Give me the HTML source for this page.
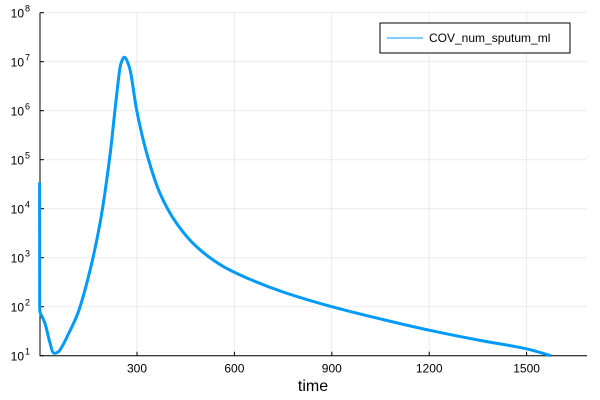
<!DOCTYPE html>
<html><head><meta charset="utf-8"><style>
body{margin:0;background:#fff}
svg{display:block;font-family:"Liberation Sans","DejaVu Sans",sans-serif}
</style></head><body>
<svg id="chart" width="600" height="400">
<rect width="600" height="400" fill="#fff"/>
<g id="grid"></g>
<g id="axes"></g>
<path id="line" fill="none" stroke="#009af9" stroke-width="3" stroke-linejoin="round"/>
<text x="313" y="391" font-size="16" text-anchor="middle" fill="#000">time</text>
<g>
<rect x="380" y="23" width="190" height="30" fill="#fff" stroke="#000" stroke-width="1"/>
<line x1="387" y1="38" x2="423" y2="38" stroke="#009af9" stroke-width="1"/>
<text x="429" y="42" font-size="12">COV_num_sputum_ml</text>
</g>
</svg>
<script>
const times=[0,0.3,1,6,16,32,42,48,58,72,87,118,150,186,217,237,250,261,276,299,330,371,422,484,566,648,750,900,1050,1200,1350,1500,1575];
const logValues=[4.54,2.0,1.9,1.82,1.67,1.26,1.06,1.05,1.08,1.22,1.42,1.87,2.6,3.7,5.1,6.3,6.95,7.09,6.9,6.01,5.13,4.31,3.70,3.22,2.82,2.56,2.3,2.0,1.75,1.52,1.32,1.14,1.0];
const xTicks=[300,600,900,1200,1500];
const yTicks=[1,2,3,4,5,6,7,8];
const x0=39.6,xs=97.4/300,yBase=355.7,dec=49;
const X=t=>x0+t*xs, Y=l=>yBase-(l-1)*dec;
const ns="http://www.w3.org/2000/svg";
const grid=document.getElementById('grid'),axes=document.getElementById('axes');
function mk(tag,attrs,parent){const e=document.createElementNS(ns,tag);for(const k in attrs)e.setAttribute(k,attrs[k]);parent.appendChild(e);return e;}
xTicks.forEach(v=>{
 const g=mk('line',{x1:X(v),x2:X(v),y1:Y(8),y2:Y(1),stroke:'#000','stroke-opacity':0.08},grid);
 
 
 const t=mk('line',{x1:X(v),x2:X(v),y1:Y(1),y2:Y(1)-4,stroke:'#000'},axes);
 
 
 const l=mk('text',{x:X(v),y:Y(1)+17,'font-size':12,'text-anchor':'middle'},axes);
 l.textContent=v;
 
 
});
yTicks.forEach(v=>{
 const g=mk('line',{x1:40,x2:587,y1:Y(v),y2:Y(v),stroke:'#000','stroke-opacity':0.08},grid);
 
 
 const t=mk('line',{x1:40,x2:44,y1:Y(v),y2:Y(v),stroke:'#000'},axes);
 
 
 const l=mk('text',{x:24,y:Y(v)+5,'font-size':12,'text-anchor':'end'},axes);
 l.textContent='10';
 
 
 const s=mk('text',{x:25,y:Y(v)-1,'font-size':9},axes);
 s.textContent=v;
 
 
});
const ax=mk('path',{d:`M40,${Y(8)}V${Y(1)}H587`,stroke:'#000',fill:'none','stroke-width':1},axes);


// monotone-X cubic interpolation
const px=times.map(X), py=logValues.map(Y), n=px.length;
const sl=[];for(let i=0;i<n-1;i++)sl.push((py[i+1]-py[i])/Math.max(px[i+1]-px[i],1e-6));
const m=new Array(n);
m[0]=sl[0];m[n-1]=sl[n-2];
for(let i=1;i<n-1;i++){
 if(sl[i-1]*sl[i]<=0)m[i]=0;
 else{const h0=px[i]-px[i-1],h1=px[i+1]-px[i];m[i]=3*(h0+h1)/((2*h1+h0)/sl[i-1]+(h1+2*h0)/sl[i]);}
}
let d=`M${px[0]},${py[0]}`;
for(let i=0;i<n-1;i++){
 const h=(px[i+1]-px[i])/3;
 if(h<0.5){d+=`L${px[i+1]},${py[i+1]}`;continue;}
 d+=`C${px[i]+h},${py[i]+m[i]*h} ${px[i+1]-h},${py[i+1]-m[i+1]*h} ${px[i+1]},${py[i+1]}`;
}
document.getElementById('line').setAttribute('d',d);
</script>
</body></html>
